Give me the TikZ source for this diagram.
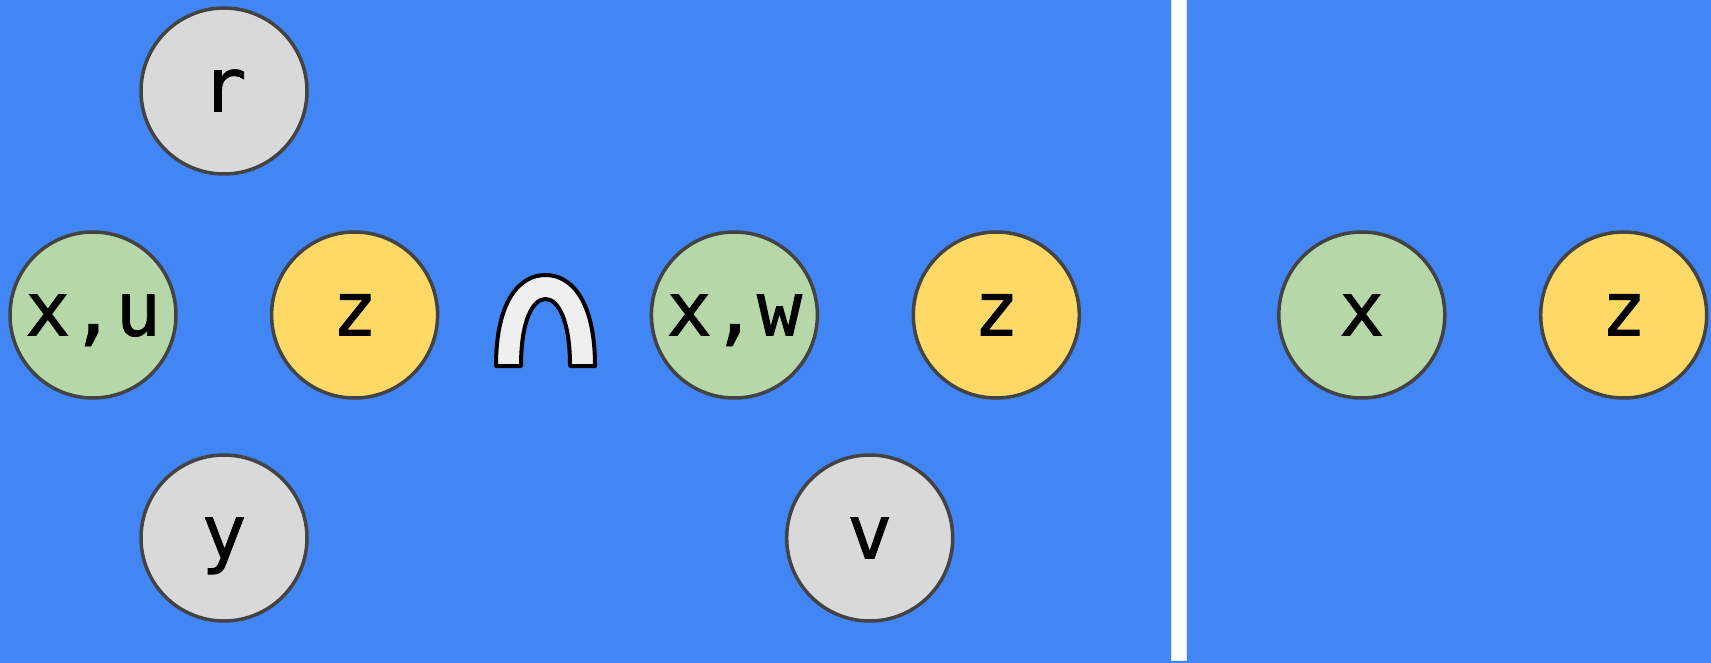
\documentclass[tikz,border=0pt]{standalone}
\usepackage{fontspec}
\setmainfont[FakeBold=1.2,AutoFakeBold=1.2]{DejaVu Sans Mono}
\definecolor{bgblue}{HTML}{4285F4}
\definecolor{gr}{HTML}{B6D7A8}
\definecolor{ye}{HTML}{FFD966}
\definecolor{lg}{HTML}{D9D9D9}
\definecolor{st}{HTML}{434343}
\definecolor{capfill}{HTML}{EFEFEF}
\begin{document}
\begin{tikzpicture}[x=1pt,y=-1pt,
  ball/.style={circle,draw=st,line width=3.5pt,minimum size=166pt,inner sep=0pt,
    font=\fontsize{75}{80}\selectfont\bfseries,text height=41pt,text depth=0pt},
  greenball/.style={ball,fill=gr},
  yellowball/.style={ball,fill=ye},
  grayball/.style={ball,fill=lg}]
\useasboundingbox (0,0) rectangle (1711,663);
\fill[bgblue] (0,0) rectangle (1711,663);
\draw[white!80!bgblue,line width=1pt,fill=white] (1171,-2) rectangle (1186,660);
\node[grayball] (r) at (224,91) {r};
\node[greenball] (xu) at (93,315) {x,u};
\node[yellowball] (z1) at (354.6,315) {z};
\node[greenball] (xw) at (734.4,315) {x,w};
\node[yellowball] (z2) at (996.3,315) {z};
\node[grayball] (y) at (224,538) {y};
\node[grayball] (v) at (869.7,538) {v};
\node[greenball] (x) at (1361.8,315) {x};
\node[yellowball] (z3) at (1623.7,315) {z};
\draw[black,line width=4pt,fill=capfill,line join=round]
  (496,366) .. controls (496,300) and (520,275) .. (545.5,275)
  .. controls (571,275) and (595,300) .. (595,366)
  -- (570,366)
  .. controls (570,320) and (558,299) .. (545.5,299)
  .. controls (533,299) and (521,320) .. (521,366) -- cycle;
\end{tikzpicture}
\end{document}
